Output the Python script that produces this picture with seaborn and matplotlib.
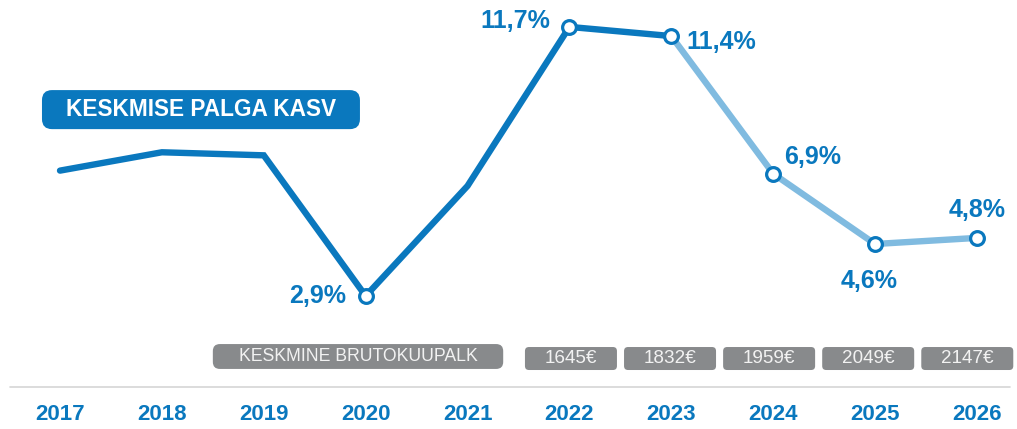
import numpy as np
import pandas as pd
import seaborn as sns
import matplotlib
matplotlib.use("Agg")
import matplotlib.pyplot as plt
from matplotlib.patches import FancyBboxPatch
from matplotlib.transforms import blended_transform_factory, IdentityTransform

# ---------------- data ----------------
years = [2017, 2018, 2019, 2020, 2021, 2022, 2023, 2024, 2025, 2026]
growth = [7.0, 7.6, 7.5, 2.9, 6.5, 11.7, 11.4, 6.9, 4.6, 4.8]
growth_labels = [None, None, None, "2,9%", None, "11,7%", "11,4%", "6,9%", "4,6%", "4,8%"]
salary_labels = [None, None, None, None, None, "1645€", "1832€", "1959€", "2049€", "2147€"]
marker_years = [2020, 2022, 2023, 2024, 2025, 2026]
forecast_from = 2023
title_text = "KESKMISE PALGA KASV"
salary_title = "KESKMINE BRUTOKUUPALK"

# ---------------- style ----------------
DARK = "#0a78be"
LIGHT = "#80bbe0"
GREY = "#888a8c"
BOXTXT = "#f2f2f2"
RULE = "#d6d6d6"

sns.set_theme(style="white")
plt.rcParams["font.family"] = ["Liberation Sans", "DejaVu Sans"]

# label offsets in pixels (dx, dy, ha)
label_pos = {
    2020: (-20, 0, "right"),
    2022: (-19, 6, "right"),
    2023: (15, -6, "left"),
    2024: (11, 17, "left"),
    2025: (-6, -37, "center"),
    2026: (0, 28, "center"),
}
# salary value boxes: first centre, step and width in x-data units
box_first, box_step, box_w = 5.015, 0.9725, 0.903

fig = plt.figure(figsize=(10.17, 4.29), dpi=100)
ax = fig.add_axes([0, 0, 1, 1])
ax.axis("off")
ax.set_xlim(-0.589, 9.393)
ax.set_ylim(-1.45, 12.58)

df = pd.DataFrame({"idx": np.arange(len(years)), "year": years, "growth": growth})
fidx = years.index(forecast_from)
hist = df[df.idx <= fidx]
fc = df[df.idx >= fidx]

sns.lineplot(data=fc, x="idx", y="growth", color=LIGHT, lw=4.6, ax=ax,
             solid_capstyle="butt", solid_joinstyle="miter", zorder=2)
sns.lineplot(data=hist, x="idx", y="growth", color=DARK, lw=4.6, ax=ax,
             solid_capstyle="round", solid_joinstyle="miter", zorder=3)
mk = df[df.year.isin(marker_years)]
sns.scatterplot(data=mk, x="idx", y="growth", s=98, color="white",
                edgecolor=DARK, linewidth=2.3, ax=ax, zorder=5)

for i, (v, lab) in enumerate(zip(growth, growth_labels)):
    if lab is None:
        continue
    dx, dy, ha = label_pos[years[i]]
    ax.annotate(lab, (i, v), xytext=(dx, dy), textcoords="offset pixels",
                ha=ha, va="center", fontsize=18, fontweight="bold", color=DARK, zorder=6)

ax.set_xlabel("")
ax.set_ylabel("")

# blended transform: x data, y axes fraction
bt = blended_transform_factory(ax.transData, ax.transAxes)

fig.canvas.draw()


def rbox(x0, x1, y0, y1, radius, color, trans):
    (px0, py0) = trans.transform((x0, y0))
    (px1, py1) = trans.transform((x1, y1))
    p = FancyBboxPatch((px0, py0), px1 - px0, py1 - py0,
                       boxstyle=f"round,pad=0,rounding_size={radius}",
                       facecolor=color, edgecolor="none",
                       transform=IdentityTransform(), zorder=4)
    fig.add_artist(p)
    return ((px0 + px1) / 2, (py0 + py1) / 2)


W, H = fig.bbox.width, fig.bbox.height

# title box
cx, cy = rbox(-0.177, 2.944, 0.699, 0.790, 10, DARK, bt)
fig.text(cx / W, cy / H, title_text, ha="center", va="center",
         fontsize=16.3, fontweight="bold", color="white", zorder=6)

# salary boxes
cx, cy = rbox(1.50, 4.35, 0.140, 0.198, 7, GREY, bt)
fig.text(cx / W, cy / H, salary_title, ha="center", va="center",
         fontsize=12.7, color=BOXTXT, zorder=6)
k = 0
for i, lab in enumerate(salary_labels):
    if lab is None:
        continue
    c = box_first + k * box_step
    k += 1
    cx, cy = rbox(c - box_w / 2, c + box_w / 2, 0.1375, 0.1911, 4, GREY, bt)
    fig.text(cx / W, cy / H, lab, ha="center", va="center",
             fontsize=13.6, color=BOXTXT, zorder=6)

# rule line
ax.plot([-0.49, 9.32], [0.098, 0.098], transform=bt, color=RULE, lw=1.2, zorder=1)

# year labels
for i, y in enumerate(years):
    ax.text(i, 0.033, str(y), transform=bt, ha="center", va="center",
            fontsize=16, fontweight="bold", color=DARK)

fig.savefig("out.png", dpi=100)
